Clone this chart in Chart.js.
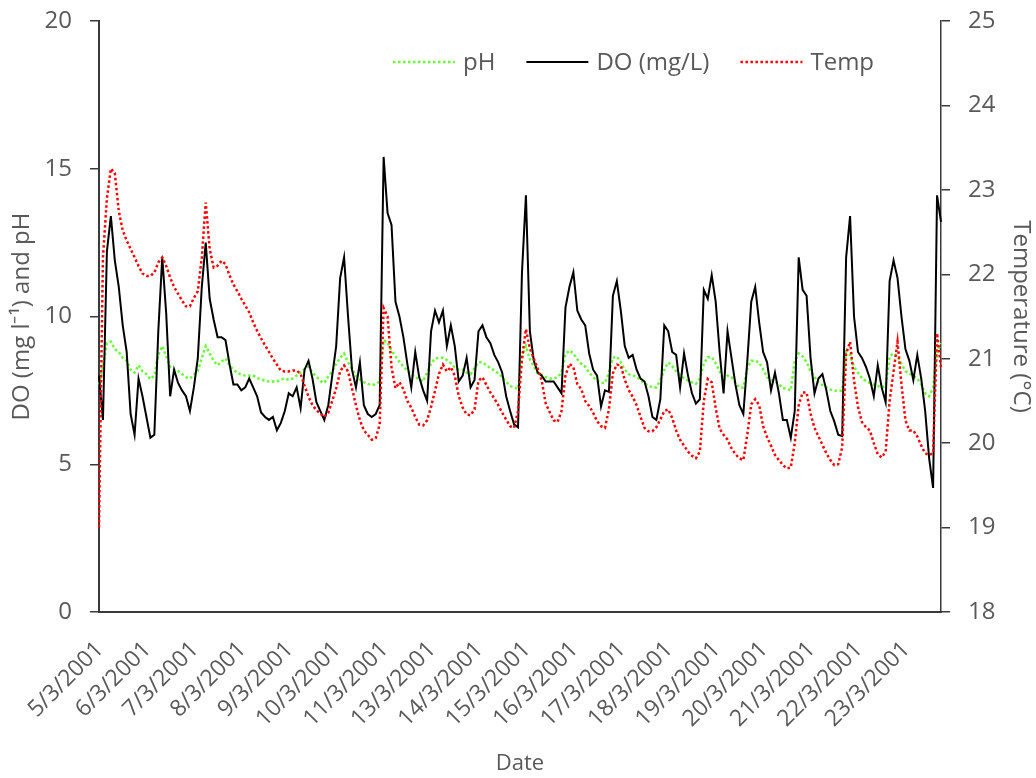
<!DOCTYPE html>
<html>
<head>
<meta charset="utf-8">
<title>DO, pH and temperature</title>
<script src="https://cdn.jsdelivr.net/npm/chart.js@4.4.1/dist/chart.umd.min.js"></script>
<style>
  html, body { margin: 0; padding: 0; background: #fff; }
  canvas { display: block; }
</style>
</head>
<body>
<canvas id="chart" width="1036" height="778"></canvas>
<script>
// one label every 12 readings (2-hourly), 214 readings in total
const pointsPerDay = 12;
const tickDates = ['5/3/2001', '6/3/2001', '7/3/2001', '8/3/2001', '9/3/2001', '10/3/2001',
    '11/3/2001', '13/3/2001', '14/3/2001', '15/3/2001', '16/3/2001', '17/3/2001',
    '18/3/2001', '19/3/2001', '20/3/2001', '21/3/2001', '22/3/2001', '23/3/2001'];

// DO (mg/L), left axis
const doValues = [
    8.0, 6.5, 12.2, 13.4, 11.9, 11.0, 9.7, 8.8, 6.7, 6.0, 7.9, 7.3,
    6.6, 5.9, 6.0, 9.5, 12.0, 10.1, 7.3, 8.2, 7.75, 7.5, 7.3, 6.8,
    7.6, 8.6, 11.0, 12.5, 10.6, 9.9, 9.3, 9.3, 9.2, 8.4, 7.7, 7.7,
    7.5, 7.6, 7.9, 7.6, 7.3, 6.75, 6.6, 6.5, 6.6, 6.15, 6.4, 6.8,
    7.4, 7.3, 7.6, 6.9, 8.2, 8.5, 7.9, 7.1, 6.8, 6.5, 7.0, 8.0,
    9.0, 11.3, 12.0, 10.0, 8.2, 7.6, 8.45, 7.0, 6.7, 6.6, 6.7, 7.0,
    15.4, 13.5, 13.1, 10.5, 10.0, 9.3, 8.4, 7.6, 8.8, 7.95, 7.5, 7.15,
    9.5, 10.2, 9.8, 10.2, 9.0, 9.7, 9.0, 7.8, 8.0, 8.6, 7.6, 7.85,
    9.5, 9.7, 9.3, 9.1, 8.7, 8.45, 8.1, 7.3, 6.8, 6.35, 6.25, 11.5,
    14.1, 9.5, 8.5, 8.1, 8.0, 7.8, 7.8, 7.8, 7.6, 7.4, 10.3, 11.0,
    11.5, 10.2, 9.9, 9.7, 8.75, 8.2, 8.0, 6.95, 7.5, 7.45, 10.7, 11.2,
    10.2, 9.0, 8.6, 8.7, 8.2, 7.9, 7.8, 7.3, 6.6, 6.5, 7.2, 9.7,
    9.5, 8.8, 8.7, 7.6, 8.75, 8.0, 7.4, 7.05, 7.2, 10.9, 10.6, 11.4,
    10.5, 8.8, 7.4, 9.5, 8.6, 7.7, 7.0, 6.7, 8.5, 10.5, 11.0, 9.8,
    8.8, 8.45, 7.5, 8.1, 7.4, 6.5, 6.5, 5.9, 6.8, 12.0, 10.9, 10.7,
    8.6, 7.4, 7.9, 8.05, 7.5, 6.8, 6.45, 6.0, 5.95, 12.0, 13.4, 10.0,
    8.8, 8.6, 8.3, 7.9, 7.3, 8.35, 7.6, 7.1, 11.2, 11.9, 11.3, 10.0,
    8.9, 8.5, 7.85, 8.7, 7.9, 6.8, 5.2, 4.2, 14.1, 13.2
];

// pH, left axis
const phValues = [
    7.7, 8.3, 9.1, 9.15, 8.9, 8.8, 8.6, 8.5, 8.2, 8.1, 8.35, 8.15,
    8.05, 7.88, 8.0, 8.7, 9.0, 8.65, 8.3, 8.2, 8.15, 8.05, 7.95, 7.9,
    8.03, 8.15, 8.6, 9.0, 8.75, 8.5, 8.35, 8.48, 8.58, 8.35, 8.2, 8.1,
    8.03, 8.0, 8.0, 8.0, 7.92, 7.87, 7.83, 7.8, 7.8, 7.8, 7.87, 7.9,
    7.86, 7.9, 8.0, 8.1, 8.22, 8.3, 8.1, 7.97, 7.82, 7.75, 7.98, 8.15,
    8.4, 8.6, 8.75, 8.45, 8.22, 8.0, 7.87, 7.78, 7.72, 7.68, 7.7, 7.8,
    9.2, 9.12, 8.85, 8.65, 8.47, 8.3, 8.17, 8.05, 7.95, 7.88, 7.8, 8.1,
    8.4, 8.58, 8.6, 8.6, 8.53, 8.42, 8.28, 8.2, 8.2, 8.1, 8.05, 8.25,
    8.45, 8.45, 8.35, 8.25, 8.18, 8.08, 7.95, 7.78, 7.65, 7.6, 7.55, 8.6,
    9.0, 8.55, 8.3, 8.07, 8.03, 7.95, 7.9, 7.9, 7.95, 8.1, 8.72, 8.85,
    8.75, 8.55, 8.4, 8.3, 8.1, 7.95, 7.82, 7.75, 7.75, 8.1, 8.6, 8.65,
    8.45, 8.2, 8.05, 8.0, 7.96, 7.85, 7.75, 7.66, 7.6, 7.6, 7.85, 8.2,
    8.45, 8.32, 8.15, 8.0, 7.9, 7.84, 7.77, 7.72, 7.9, 8.4, 8.62, 8.63,
    8.42, 8.15, 7.85, 8.0, 7.95, 7.75, 7.6, 7.6, 8.25, 8.5, 8.5, 8.45,
    8.2, 7.95, 7.85, 7.8, 7.72, 7.57, 7.56, 7.5, 8.5, 8.75, 8.65, 8.45,
    8.15, 7.95, 7.77, 7.68, 7.6, 7.53, 7.5, 7.47, 7.5, 8.8, 8.7, 8.3,
    8.1, 7.92, 7.82, 7.75, 7.7, 7.65, 7.6, 7.65, 8.65, 8.75, 8.65, 8.4,
    8.15, 8.07, 8.0, 7.9, 7.7, 7.4, 7.3, 7.6, 8.8, 9.1
];

// Temperature (°C), right axis
const tempValues = [
    19.0, 22.2, 22.9, 23.25, 23.2, 22.75, 22.52, 22.4, 22.3, 22.2, 22.1, 22.01,
    21.98, 21.98, 22.02, 22.14, 22.2, 22.1, 21.96, 21.85, 21.77, 21.69, 21.62, 21.62,
    21.72, 21.8, 22.2, 22.85, 22.3, 22.08, 22.1, 22.16, 22.12, 21.99, 21.88, 21.8,
    21.71, 21.63, 21.55, 21.43, 21.33, 21.24, 21.16, 21.08, 21.0, 20.93, 20.86, 20.85,
    20.85, 20.86, 20.86, 20.82, 20.68, 20.55, 20.45, 20.39, 20.35, 20.31, 20.36, 20.5,
    20.65, 20.85, 20.92, 20.85, 20.65, 20.45, 20.27, 20.15, 20.1, 20.04, 20.06, 20.22,
    21.6, 21.5, 20.9, 20.65, 20.72, 20.64, 20.5, 20.42, 20.31, 20.22, 20.21, 20.27,
    20.43, 20.62, 20.82, 20.93, 20.85, 20.9, 20.8, 20.56, 20.42, 20.34, 20.33, 20.4,
    20.74, 20.78, 20.69, 20.6, 20.53, 20.45, 20.36, 20.28, 20.2, 20.18, 20.38, 21.0,
    21.35, 21.12, 21.0, 20.88, 20.74, 20.47, 20.37, 20.27, 20.25, 20.38, 20.8, 20.94,
    20.9, 20.7, 20.64, 20.5, 20.44, 20.36, 20.26, 20.2, 20.18, 20.4, 20.83, 20.93,
    20.92, 20.75, 20.63, 20.55, 20.45, 20.31, 20.18, 20.14, 20.14, 20.19, 20.28, 20.38,
    20.4, 20.3, 20.15, 20.04, 19.97, 19.9, 19.85, 19.82, 19.9, 20.5, 20.76, 20.72,
    20.42, 20.17, 20.1, 20.04, 19.94, 19.87, 19.82, 19.8, 20.1, 20.46, 20.52, 20.45,
    20.2, 20.07, 19.97, 19.86, 19.8, 19.74, 19.7, 19.71, 20.0, 20.45, 20.6, 20.6,
    20.35, 20.18, 20.08, 19.98, 19.88, 19.8, 19.74, 19.75, 19.95, 21.06, 21.2, 20.74,
    20.43, 20.25, 20.19, 20.15, 20.0, 19.87, 19.83, 19.9, 20.5, 20.85, 21.2, 20.7,
    20.27, 20.15, 20.15, 20.08, 19.97, 19.88, 19.86, 19.88, 21.3, 20.9
];

// category labels: the date on every 12th reading, blank otherwise
const categories = doValues.map((v, i) => i % pointsPerDay === 0 ? tickDates[i / pointsPerDay] : '');

const textColor = '#595959';
const axisColor = '#3a3a3a';
Chart.defaults.font.family = "'Open Sans', sans-serif";
Chart.defaults.color = textColor;

// legend drawn inside the plot, like the original
const insideLegend = {
    id: 'insideLegend',
    afterDraw(chart) {
        const ctx = chart.ctx;
        let x = 393;
        const y = 62;
        ctx.save();
        ctx.font = "24px 'Open Sans'";
        ctx.textBaseline = 'middle';
        ctx.fillStyle = textColor;
        chart.data.datasets.forEach(ds => {
            ctx.beginPath();
            ctx.strokeStyle = ds.borderColor;
            ctx.lineWidth = ds.borderWidth;
            ctx.setLineDash(ds.borderDash || []);
            ctx.moveTo(x, y);
            ctx.lineTo(x + 62, y);
            ctx.stroke();
            ctx.setLineDash([]);
            x += 62 + 8;
            ctx.fillText(ds.label, x, y + 1);
            x += ctx.measureText(ds.label).width + 31;
        });
        ctx.restore();
    }
};

// fixed axis sizes so the plot area sits where the original has it
function fixY(width) {
    return scale => {
        scale.width = width;
        scale.paddingTop = 0;
        scale.paddingBottom = 0;
    };
}

const ctx = document.getElementById('chart').getContext('2d');
const chart = new Chart(ctx, {
    type: 'line',
    data: {
        labels: categories,
        datasets: [{
            label: 'pH',
            data: phValues,
            yAxisID: 'y',
            borderColor: '#66ff33',
            borderWidth: 2.5,
            borderDash: [2.5, 2.5],
            order: 2
        }, {
            label: 'DO (mg/L)',
            data: doValues,
            yAxisID: 'y',
            borderColor: '#000000',
            borderWidth: 2,
            order: 1
        }, {
            label: 'Temp',
            data: tempValues,
            yAxisID: 'y1',
            borderColor: '#ff0000',
            borderWidth: 2.5,
            borderDash: [2.5, 2.5],
            order: 0
        }]
    },
    options: {
        responsive: false,
        animation: false,
        devicePixelRatio: 1,
        layout: { padding: { top: 21 } },
        elements: {
            point: { radius: 0 },
            line: { tension: 0 }
        },
        plugins: {
            legend: { display: false },
            tooltip: { enabled: false }
        },
        scales: {
            x: {
                type: 'category',
                offset: false,
                grid: { display: true, drawOnChartArea: false, drawTicks: false },
                border: { display: true, color: axisColor, width: 2 },
                ticks: {
                    autoSkip: false,
                    maxRotation: 45,
                    minRotation: 45,
                    padding: 24,
                    labelOffset: 1,
                    font: { size: 23 },
                    color: textColor
                },
                title: {
                    display: true,
                    text: 'Date',
                    font: { size: 22 },
                    color: textColor,
                    padding: { top: 0, bottom: 1 }
                },
                afterFit: scale => {
                    scale.height = 166;
                    scale.paddingLeft = 0;
                    scale.paddingRight = 0;
                }
            },
            y: {
                position: 'left',
                min: 0,
                max: 20,
                ticks: { stepSize: 5, padding: 18, font: { size: 24 }, color: textColor },
                grid: { drawOnChartArea: false, drawTicks: true, tickLength: 9, color: axisColor, lineWidth: 1.5 },
                border: { display: true, color: axisColor, width: 2 },
                title: {
                    display: true,
                    text: 'DO (mg l⁻¹) and pH',
                    font: { size: 24 },
                    color: textColor,
                    padding: 8
                },
                afterFit: fixY(99)
            },
            y1: {
                position: 'right',
                min: 18,
                max: 25,
                ticks: { stepSize: 1, padding: 18, font: { size: 24 }, color: textColor },
                grid: { drawOnChartArea: false, drawTicks: true, tickLength: 9, color: axisColor, lineWidth: 1.5 },
                border: { display: true, color: axisColor, width: 1.5 },
                title: {
                    display: true,
                    text: 'Temperature (°C)',
                    font: { size: 24 },
                    color: textColor,
                    padding: 1
                },
                afterFit: fixY(95)
            }
        }
    },
    plugins: [insideLegend]
});
</script>
</body>
</html>
